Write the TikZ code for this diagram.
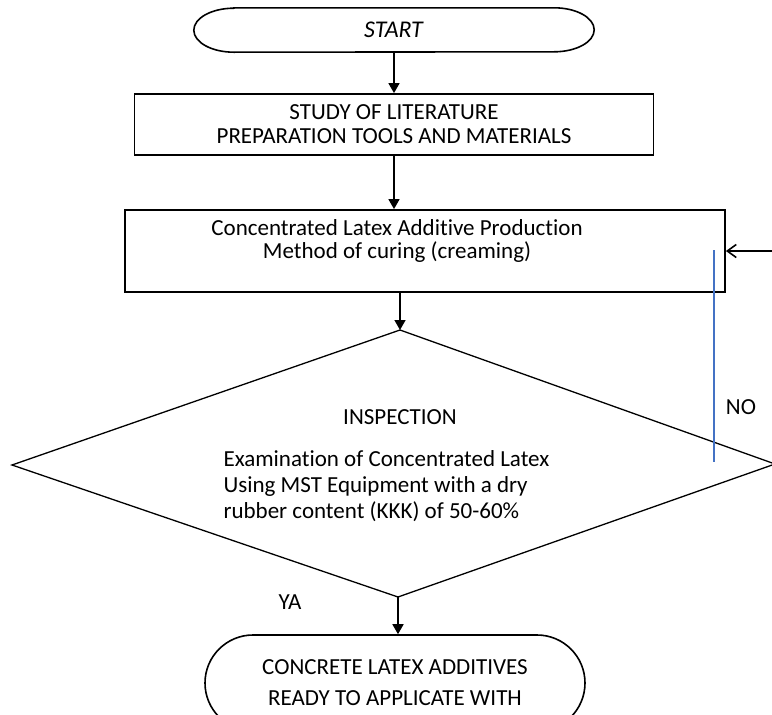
\documentclass[tikz,border=0pt]{standalone}
\usepackage{fontspec}
\setmainfont{Carlito}[Ligatures=NoCommon]
\usepackage{tikz}
\usetikzlibrary{arrows.meta,positioning,calc,shapes.misc}
\definecolor{garisbiru}{RGB}{68,114,196}
\tikzset{
  panah/.style={-{Triangle[length=10pt,width=11pt]},line width=1.6pt},
  buka/.style={-{Straight Barb[length=9pt,width=13pt]},line width=1.6pt},
  kotak/.style={draw,line width=1.8pt,inner sep=0pt},
  lonjong/.style={draw,rounded rectangle,line width=1.6pt,align=center,inner sep=0pt},
  garis/.style={line width=1.6pt},
  biru/.style={draw=garisbiru,line width=1.8pt},
}

\begin{document}
\begin{tikzpicture}[x=1pt,y=-1pt,font=\fontsize{23}{24}\selectfont]
  \useasboundingbox (0,0) rectangle (772,715);
  \clip (0,0) rectangle (772,715);
  % start
  \node[minimum width=400pt,minimum height=44pt,inner sep=0pt,font=\fontsize{24}{24}\selectfont] (mulai) at (394,30) {\textit{START}};
  \draw[garis] ($(mulai.north west)+(40,0)$) -- ($(mulai.north east)+(-40,0)$)
    arc[start angle=90,end angle=-90,x radius=40pt,y radius=22pt]
    -- ($(mulai.south west)+(40,0)$)
    arc[start angle=270,end angle=90,x radius=40pt,y radius=22pt] -- cycle;
  % kotak proses
  \node[kotak,minimum width=519pt,minimum height=61pt,align=center] (studi) at (394,124.5)
    {STUDY OF LITERATURE\\ PREPARATION TOOLS AND MATERIALS};
  \node[kotak,minimum width=600pt,minimum height=82pt] (produksi) at (425,251) {};
  \node[align=center,font=\fontsize{23}{23}\selectfont] (teksprod) at (397,241)
    {Concentrated Latex Additive Production\\ Method of curing (creaming)};
  % belah ketupat
  \coordinate (atas) at (400,330); \coordinate (kanan) at (775,464);
  \coordinate (bawah) at (398,597); \coordinate (kiri) at (12,465);
  \draw[line width=1.3pt] (atas) -- (kanan) -- (bawah) -- (kiri) -- cycle;
  \node (judulcek) at (400,417) {INSPECTION};
  \node[anchor=west,align=left,font=\fontsize{23}{26}\selectfont] (tekscek) at (220,486)
    {Examination of Concentrated Latex\\ Using MST Equipment with a dry\\
     rubber content (KKK) of 50-60\%};
  % selesai
  \node[lonjong,minimum width=380pt,minimum height=96pt,font=\fontsize{23}{31}\selectfont] (selesai) at (395,683)
    {CONCRETE LATEX ADDITIVES\\ READY TO APPLICATE WITH};
  % panah
  \draw[panah] (mulai.south) -- (studi.north);
  \draw[panah] (studi.south) -- (studi.south |- produksi.north);
  \draw[panah] (atas |- produksi.south) -- (atas);
  \draw[panah] (bawah) -- (bawah |- selesai.north);
  \coordinate (balik) at (772,251);
  \draw[buka] (balik) -- (produksi.east);
  \coordinate (biru-a) at (714,250); \coordinate (biru-b) at (714,462);
  \draw[biru] (biru-a) -- (biru-b);
  \node (tidak) at (741,407) {NO};
  \node (ya) at (290,602) {YA};
\end{tikzpicture}
\end{document}
